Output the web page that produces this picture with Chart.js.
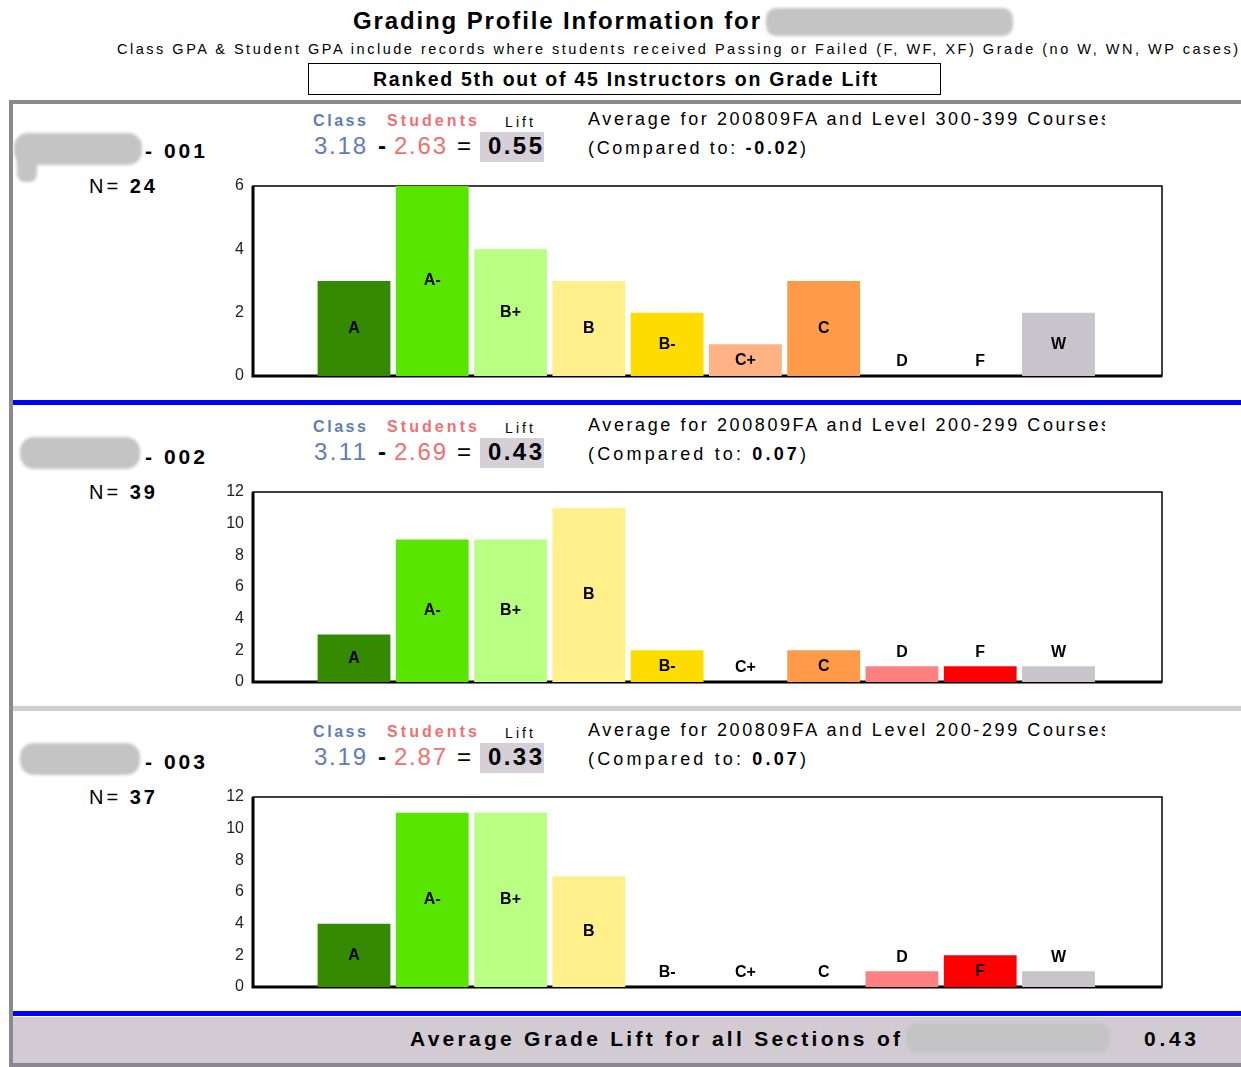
<!DOCTYPE html>
<html>
<head>
<meta charset="utf-8">
<script src="https://cdn.jsdelivr.net/npm/chart.js@4"></script>
<style>
  html, body { margin:0; padding:0; background:#fff; }
  body { width:1241px; height:1067px; position:relative; overflow:hidden; font-family:"Liberation Sans", Arial, sans-serif; color:#000; }
  .t { position:absolute; white-space:nowrap; }
  .blk { position:absolute; }
  .blob { position:absolute; background:#c4c4c4; filter:blur(1.5px); }
  .chartbox { position:absolute; left:200px; width:980px; height:230px; }
  .chartbox canvas { display:block; }
</style>
</head>
<body>
<script>
// ---------------- DATA ----------------
const grades = ['A','A-','B+','B','B-','C+','C','D','F','W'];
const section001 = [3, 6, 4, 3, 2, 1, 3, 0, 0, 2];
const section002 = [3, 9, 9, 11, 2, 0, 2, 1, 1, 1];
const section003 = [4, 11, 11, 7, 0, 0, 0, 1, 2, 1];
const sectionNames = ['- 001', '- 002', '- 003'];
const sectionN = [24, 39, 37];
const classGPA = ['3.18', '3.11', '3.19'];
const studentGPA = ['2.63', '2.69', '2.87'];
const liftValues = ['0.55', '0.43', '0.33'];
const courseLevels = ['300-399', '200-299', '200-299'];
const comparedTo = ['-0.02', '0.07', '0.07'];
const yMaxValues = [6, 12, 12];
const yTickStep = [2, 2, 2];
const term = '200809FA';
const averageLiftAll = '0.43';
const rankText = 'Ranked 5th out of 45 Instructors on Grade Lift';

// ---------------- STYLE ----------------
const gradeColors = ['#348a00','#58e600','#b8ff84','#fff08c','#ffdc00','#ffb283','#ff9a48','#ff8080','#ff0000','#c8c4cc'];
const BLUE = '#627cb8', RED = '#f07070';
const FONT = '"Liberation Sans", Arial, sans-serif';

function box(x, y, w, h, style) {
  const d = document.createElement('div');
  d.className = 'blk';
  Object.assign(d.style, {left:x+'px', top:y+'px', width:w+'px', height:h+'px'}, style || {});
  document.body.appendChild(d);
  return d;
}
function text(html, x1, x2, cy, fs, weight, color, parent) {
  const d = document.createElement('div');
  d.className = 't';
  d.innerHTML = html;
  Object.assign(d.style, {left:x1+'px', top:(cy - 0.49*fs)+'px', fontSize:fs+'px', lineHeight:fs+'px',
    fontWeight:weight||'normal', color:color||'#000'});
  (parent || document.body).appendChild(d);
  if (x2 != null) {
    const w = d.getBoundingClientRect().width;
    const n = d.textContent.length;
    if (n > 1) d.style.letterSpacing = ((x2 - x1 - w) / (n - 1)) + 'px';
  }
  return d;
}
function blob(x, y, w, h, r) {
  const d = document.createElement('div');
  d.className = 'blob';
  Object.assign(d.style, {left:x+'px', top:y+'px', width:w+'px', height:h+'px', borderRadius:(r||12)+'px'});
  document.body.appendChild(d);
}

// ---------------- FRAME ----------------
box(9, 100, 1232, 4, {background:'#8c8890'});
box(9, 100, 4, 967, {background:'#8c8890'});
box(13, 400, 1228, 5, {background:'#0000ff'});
box(13, 706, 1228, 5, {background:'#d4ccd4'});
box(13, 1011, 1228, 5, {background:'#0000ff'});
box(13, 1017, 1228, 46, {background:'#d3cbd3'});
box(9, 1063, 1232, 4, {background:'#8c8890'});

// ---------------- HEADER ----------------
text('Grading Profile Information for', 353, 760, 21, 24, 'bold');
blob(766, 8, 247, 28, 10);
text('Class GPA &amp; Student GPA include records where students received Passing or Failed (F, WF, XF) Grade (no W, WN, WP cases)', 117, 1238, 49, 14.5);
box(308, 63, 631, 30, {border:'1.5px solid #000'});
text(rankText, 373, 877, 80, 19.5, 'bold');

// ---------------- SECTIONS ----------------
const sectionData = [section001, section002, section003];
const offsets = [0, 306, 611];
const blobShapes = [[14,133,128,32],[20,437,120,32],[20,743,120,32]];
const PAD = 20;

const framePlugin = {
  id:'frame',
  beforeDatasetsDraw(chart) {
    const {left, right, top, bottom} = chart.chartArea;
    const ctx = chart.ctx;
    ctx.save();
    ctx.strokeStyle = '#000';
    ctx.lineWidth = 1.5;
    ctx.strokeRect(left, top, right - left, bottom - top);
    ctx.lineWidth = 3;
    ctx.beginPath();
    ctx.moveTo(left, top); ctx.lineTo(left, bottom + 1.5);
    ctx.moveTo(left - 1.5, bottom); ctx.lineTo(right, bottom);
    ctx.stroke();
    ctx.restore();
  }
};
const labelPlugin = {
  id:'barLabels',
  afterDatasetsDraw(chart) {
    const ctx = chart.ctx;
    const meta = chart.getDatasetMeta(0);
    ctx.save();
    ctx.font = 'bold 16px ' + FONT;
    ctx.fillStyle = '#000';
    ctx.textAlign = 'center';
    ctx.textBaseline = 'middle';
    meta.data.forEach((bar, i) => {
      const h = bar.base - bar.y;
      const y = h >= 25 ? (bar.y + bar.base) / 2 : bar.y - 14;
      ctx.fillText(grades[i], bar.x, y);
    });
    ctx.restore();
  }
};

sectionData.forEach((vals, s) => {
  const o = offsets[s];
  const b = blobShapes[s];
  blob(b[0], b[1], b[2], b[3], 14);
  if (s === 0) blob(17, 150, 20, 32, 8);
  text(sectionNames[s], 145, 205, 150 + o, 21, 'bold');
  text('N= <b>' + sectionN[s] + '</b>', 89, 155, 186 + o, 20);

  text('Class', 313, 366, 121 + o, 16, 'bold', BLUE);
  text('Students', 387, 477, 121 + o, 16, 'bold', RED);
  text('Lift', 505, 533, 122 + o, 14);
  text(classGPA[s], 314, 366, 146 + o, 24, 'normal', BLUE);
  text('-', 378, null, 146 + o, 24, 'bold');
  text(studentGPA[s], 394, 446, 146 + o, 24, 'normal', RED);
  text('=', 457, null, 146 + o, 24);
  box(480, 132 + o, 64, 30, {background:'#d6cfd8'});
  text(liftValues[s], 488, 542, 146 + o, 24, 'bold');

  const clip = box(588, 105 + o, 517, 30, {overflow:'hidden'});
  text('Average for ' + term + ' and Level ' + courseLevels[s] + ' Courses', 0, 522, 14, 18, 'normal', '#000', clip);
  text('(Compared to: <b>' + comparedTo[s] + '</b>)', 588, 806, 148 + o, 18);

  const plotTop = 186 + o;
  const wrap = document.createElement('div');
  wrap.className = 'chartbox';
  wrap.style.top = (plotTop - PAD) + 'px';
  const cv = document.createElement('canvas');
  cv.width = 980; cv.height = 190 + 2 * PAD;
  wrap.appendChild(cv);
  document.body.appendChild(wrap);

  new Chart(cv, {
    type:'bar',
    data:{
      datasets:[{
        data: vals.map((v, i) => ({x:i, y:v})),
        backgroundColor: gradeColors,
        borderWidth: 0,
        categoryPercentage: 1,
        barPercentage: 0.93
      }]
    },
    options:{
      responsive:false,
      animation:false,
      devicePixelRatio:1,
      layout:{padding:{top:PAD, bottom:PAD, left:0, right:18}},
      plugins:{legend:{display:false}, tooltip:{enabled:false}},
      scales:{
        x:{type:'linear', offset:false, min:-1.29, max:10.322, display:false},
        y:{
          min:0, max:yMaxValues[s],
          grid:{display:false, drawTicks:false},
          border:{display:false},
          ticks:{stepSize:yTickStep[s], padding:9, color:'#222', font:{family:FONT, size:16}},
          afterFit(scale){ scale.width = 53; }
        }
      }
    },
    plugins:[framePlugin, labelPlugin]
  });
});

// ---------------- FOOTER ----------------
text('Average Grade Lift for all Sections of', 410, 900, 1038, 21, 'bold');
blob(906, 1023, 204, 30, 12);
text(averageLiftAll, 1144, 1196, 1038, 21, 'bold');
</script>
</body>
</html>
